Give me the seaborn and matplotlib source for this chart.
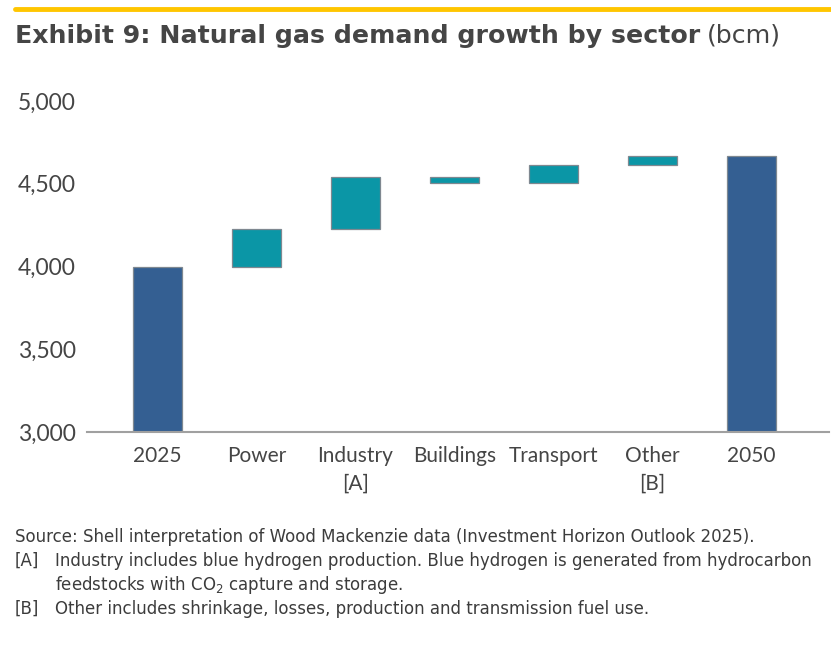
import matplotlib
matplotlib.use("Agg")
import matplotlib.pyplot as plt
import seaborn as sns
import pandas as pd
import numpy as np

categories = ["2025", "Power", "Industry\n[A]", "Buildings", "Transport", "Other\n[B]", "2050"]
start_value = 4000
changes = [225, 318, -36, 104, 57]
end_value = 4668
y_ticks = [3000, 3500, 4000, 4500, 5000]

sns.set_theme(style="white")
plt.rcParams['font.family'] = ['Lato', 'DejaVu Sans']

# compute waterfall geometry from data
levels = [start_value]
for c in changes:
    levels.append(levels[-1] + c)
bottoms = [0] + [min(levels[i], levels[i + 1]) for i in range(len(changes))] + [0]
heights = [start_value] + [abs(c) for c in changes] + [end_value]
kind = ["total"] + ["delta"] * len(changes) + ["total"]
df = pd.DataFrame({"cat": categories, "bottom": bottoms, "height": heights, "kind": kind})

W, H = 831, 645
fig = plt.figure(figsize=(W / 100, H / 100), dpi=100)
ax = fig.add_axes([87 / W, 1 - 432 / H, (829 - 87) / W, (432 - 101) / H])

dark = "#345f92"
teal = "#0b96a6"
tot = df[df["kind"] == "total"]
dlt = df[df["kind"] == "delta"]
sns.barplot(data=tot, x="cat", y="height", order=categories, color=dark, saturation=1,
            width=0.49, edgecolor="#7f8890", linewidth=0.9, ax=ax)
sns.barplot(data=dlt, x="cat", y="height", order=categories, color=teal, saturation=1,
            bottom=dlt["bottom"].to_numpy(), width=0.49, edgecolor="#7f8890", linewidth=0.9, ax=ax)

ax.set_ylim(3000, 5000)
ax.set_xlim(-0.71, 6.78)
ax.set_yticks(y_ticks)
ax.set_yticklabels([f"{v:,}" for v in y_ticks])
ax.set_xlabel("")
ax.set_ylabel("")
for s in ["top", "right", "left"]:
    ax.spines[s].set_visible(False)
ax.spines["bottom"].set_color("#a0a0a0")
ax.spines["bottom"].set_linewidth(1.5)
ax.tick_params(axis="both", length=0, colors="#454545")
ax.tick_params(axis="y", pad=8, labelsize=16.5)
ax.tick_params(axis="x", pad=10, labelsize=15)
for lab in ax.get_xticklabels():
    lab.set_linespacing(1.5)

# header rule
fig.add_artist(plt.Line2D([15 / W, 1.0], [1 - 8.5 / H, 1 - 8.5 / H], color="#ffc600", lw=3.5))

# title
tfam = ['DejaVu Sans']
t1 = fig.text(15 / W, 1 - 36 / H, "Exhibit 9: Natural gas demand growth by sector",
              fontsize=18.2, fontweight="bold", family=tfam, color="#454545", va="center", ha="left")
fig.canvas.draw()
bb = t1.get_window_extent()
fig.text((bb.x1 + 7) / W, 1 - 36 / H, "(bcm)", fontsize=18.2, family=tfam, color="#454545",
         va="center", ha="left")

# footnotes
fs = 12.0
col = "#3c3c3c"
ffam = ['DejaVu Sans']
fig.text(15 / W, 1 - 537 / H, "Source: Shell interpretation of Wood Mackenzie data (Investment Horizon Outlook 2025).",
         fontsize=fs, family=ffam, color=col, va="center")
fig.text(15 / W, 1 - 561 / H, "[A]", fontsize=fs, family=ffam, color=col, va="center")
fig.text(55 / W, 1 - 561 / H, "Industry includes blue hydrogen production. Blue hydrogen is generated from hydrocarbon",
         fontsize=fs, family=ffam, color=col, va="center")
fig.text(55 / W, 1 - 585 / H, r"feedstocks with CO$_2$ capture and storage.",
         fontsize=fs, family=ffam, color=col, va="center")
fig.text(15 / W, 1 - 609 / H, "[B]", fontsize=fs, family=ffam, color=col, va="center")
fig.text(55 / W, 1 - 609 / H, "Other includes shrinkage, losses, production and transmission fuel use.",
         fontsize=fs, family=ffam, color=col, va="center")

fig.savefig("out.png", dpi=100)
